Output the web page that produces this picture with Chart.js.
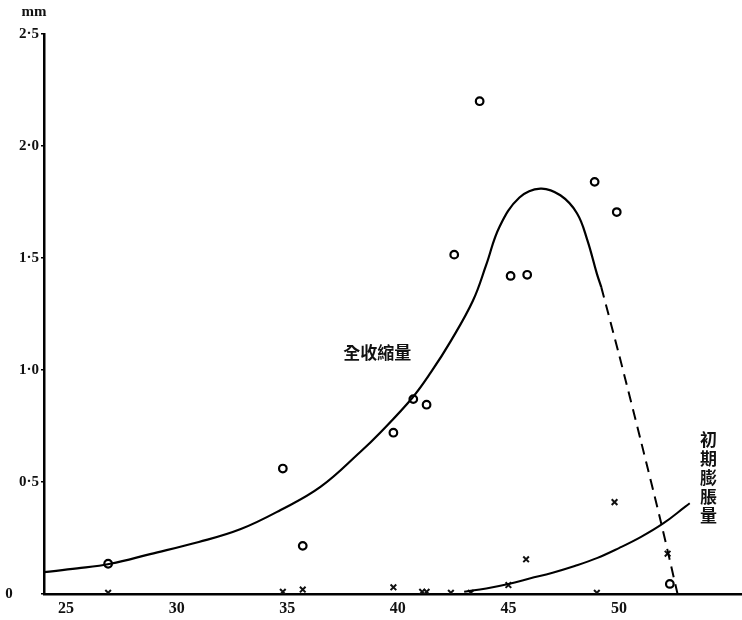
<!DOCTYPE html>
<html>
<head>
<meta charset="utf-8">
<script src="https://cdn.jsdelivr.net/npm/chart.js@4.4.0/dist/chart.umd.min.js"></script>
<style>
html,body{margin:0;padding:0;background:#fff;overflow:hidden;width:742px;height:620px;}
#c{display:block;}
</style>
</head>
<body>
<canvas id="c" width="749" height="620"></canvas>
<script>
// Observed total shrinkage (circles): [temperature, mm]
const totalX = [26.9, 34.8, 35.7, 39.8, 40.7, 41.3, 42.55, 43.7, 45.1, 45.85, 48.9, 49.9, 52.3];
const totalY = [0.135, 0.56, 0.215, 0.72, 0.87, 0.845, 1.515, 2.20, 1.42, 1.425, 1.84, 1.705, 0.045];
// Observed initial swelling (crosses)
const swellX = [26.9, 34.8, 35.7, 39.8, 41.1, 41.3, 42.4, 43.3, 45.0, 45.8, 49.0, 49.8, 52.2];
const swellY = [0.005, 0.01, 0.02, 0.03, 0.01, 0.01, 0.005, 0.005, 0.04, 0.155, 0.005, 0.41, 0.18];
// Fitted curve for total shrinkage (solid part)
const curve1X = [24.0, 25.5, 27.0, 28.8, 31.0, 32.9, 34.7, 36.5, 38.3, 39.2, 40.65, 41.5, 42.4, 43.4, 44.0, 44.6, 45.5, 46.45, 47.35, 48.1, 48.57, 49.0, 49.2];
const curve1Y = [0.098, 0.114, 0.135, 0.178, 0.232, 0.29, 0.375, 0.478, 0.634, 0.72, 0.875, 0.99, 1.13, 1.31, 1.47, 1.64, 1.77, 1.81, 1.78, 1.70, 1.58, 1.43, 1.37];
// Dashed continuation
const dashX = [49.2, 50.0, 51.0, 51.9, 52.65];
const dashY = [1.37, 1.07, 0.68, 0.32, 0.0];
// Fitted curve for initial swelling
const curve2X = [43.0, 44.0, 45.0, 46.0, 47.0, 48.0, 49.0, 50.0, 51.0, 52.0, 53.0, 53.2];
const curve2Y = [0.01, 0.025, 0.045, 0.07, 0.095, 0.125, 0.16, 0.205, 0.255, 0.315, 0.39, 0.405];
// Axis ticks
const xTicks = [25, 30, 35, 40, 45, 50];
const yTicks = [0, 0.5, 1.0, 1.5, 2.0, 2.5];
const yTickLabels = ['0\u2002\u2002\u2002 ', '0·5', '1·0', '1·5', '2·0', '2·5'];
const unitLabel = 'mm';
const label1 = '全收縮量';
const label2 = '初期膨脹量';
const label1Pos = [39.07, 1.076];
const label2Pos = [54.05, 0.52];

const pts = (xs, ys) => xs.map((x, i) => ({x: x, y: ys[i]}));

const labelPlugin = {
  id: 'labels',
  afterDatasetsDraw(chart) {
    const ctx = chart.ctx;
    const xs = chart.scales.x, ys = chart.scales.y;
    ctx.save();
    ctx.fillStyle = '#111';
    ctx.font = 'bold 15px "Liberation Serif", serif';
    ctx.textAlign = 'center';
    ctx.textBaseline = 'middle';
    ctx.fillText(unitLabel, chart.chartArea.left - 10, chart.chartArea.top - 22);
    ctx.font = 'bold 17px "Noto Sans CJK TC", sans-serif';
    ctx.fillText(label1, xs.getPixelForValue(label1Pos[0]), ys.getPixelForValue(label1Pos[1]));
    const cx = xs.getPixelForValue(label2Pos[0]);
    const cy = ys.getPixelForValue(label2Pos[1]);
    const chars = Array.from(label2);
    const step = 19;
    chars.forEach((ch, i) => {
      ctx.fillText(ch, cx, cy - (chars.length - 1) * step / 2 + i * step);
    });
    ctx.restore();
  }
};

new Chart(document.getElementById('c'), {
  type: 'scatter',
  data: {
    datasets: [
      {
        data: pts(curve1X, curve1Y), showLine: true, borderColor: '#000', borderWidth: 2.2,
        pointRadius: 0, tension: 0.4, fill: false
      },
      {
        data: pts(dashX, dashY), showLine: true, borderColor: '#000', borderWidth: 2,
        borderDash: [11, 7], pointRadius: 0, tension: 0.3, fill: false
      },
      {
        data: pts(curve2X, curve2Y), showLine: true, borderColor: '#000', borderWidth: 2,
        pointRadius: 0, tension: 0.4, fill: false
      },
      {
        data: pts(totalX, totalY), showLine: false, pointStyle: 'circle', pointRadius: 3.8,
        pointBorderWidth: 2.2, pointBorderColor: '#000', pointBackgroundColor: '#fff'
      },
      {
        data: pts(swellX, swellY), showLine: false, pointStyle: 'crossRot', pointRadius: 4,
        pointBorderWidth: 2, pointBorderColor: '#111', pointBackgroundColor: '#111'
      }
    ]
  },
  options: {
    responsive: false,
    animation: false,
    events: [],
    layout: {padding: {top: 34, right: 0, bottom: 0, left: 0}},
    plugins: {legend: {display: false}, tooltip: {enabled: false}},
    scales: {
      x: {
        type: 'linear', min: 24, max: 55.6,
        grid: {display: false, drawTicks: false},
        border: {display: true, color: '#000', width: 2.5},
        afterBuildTicks(s) { s.ticks = xTicks.map(v => ({value: v})); },
        afterFit(s) { s.height = 26; },
        ticks: {
          color: '#111', padding: 5, maxRotation: 0,
          font: {family: '"Liberation Serif", serif', size: 16, weight: 'bold'},
          callback: v => String(v)
        }
      },
      y: {
        type: 'linear', min: 0, max: 2.5,
        grid: {display: true, drawOnChartArea: false, drawTicks: true, tickLength: 3, color: '#000', lineWidth: 1.5},
        border: {display: true, color: '#000', width: 2.5},
        afterBuildTicks(s) { s.ticks = yTicks.map(v => ({value: v})); },
        afterFit(s) { s.width = 44; },
        ticks: {
          color: '#111', padding: 2,
          font: {family: '"Liberation Serif", serif', size: 15, weight: 'bold'},
          callback: v => yTickLabels[yTicks.indexOf(v)]
        }
      }
    }
  },
  plugins: [labelPlugin]
});
</script>
</body>
</html>
